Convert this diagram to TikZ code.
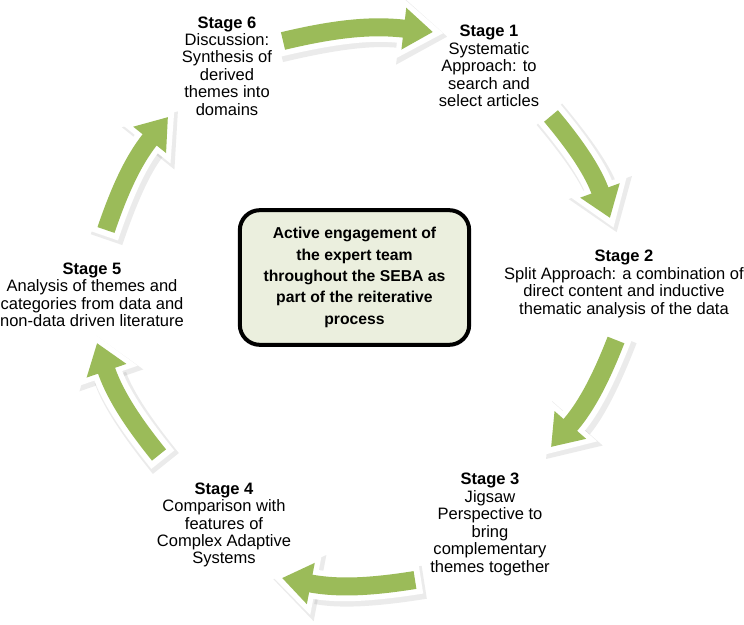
\documentclass[tikz,border=0pt]{standalone}
\usepackage{fontspec}
\setmainfont{Liberation Sans}
\usetikzlibrary{arrows.meta}
\definecolor{arrowgreen}{HTML}{9BBB59}
\definecolor{boxfill}{RGB}{235,239,222}
\begin{document}
\begin{tikzpicture}[x=0.75pt,y=0.75pt,
  stage/.style={align=center, font=\fontsize{12.4}{13.1}\selectfont, inner sep=0pt},
  corebox/.style={draw=black, line width=3pt, fill=boxfill, rounded corners=15pt,
    minimum width=172pt, minimum height=101pt, align=center, inner sep=0pt,
    font=\fontsize{11.8}{16}\selectfont\bfseries},
  arrowshade/.style={black, opacity=0.08, line width=25pt,
    -{Triangle[width=48pt,length=36pt]}, shorten <=-5pt, shorten >=-9pt,
    transform canvas={xshift=2pt,yshift=-2.5pt}},
  arrowhalo/.style={white, line width=22pt,
    -{Triangle[width=44pt,length=34pt]}, shorten <=-4.5pt, shorten >=-8pt},
  arrowbody/.style={arrowgreen, line width=13.5pt,
    -{Triangle[width=30pt,length=22pt]}},
  arcbend/.style={bend left=10}
]
\useasboundingbox (0,0) rectangle (744,625);

% stage texts
\node[stage] (s6) at (227,559) {\textbf{Stage 6}\\Discussion:\\Synthesis of\\derived\\themes into\\domains};
\node[stage] (s1) at (489,559) {\textbf{Stage 1}\\Systematic\\Approach: to\\search and\\select articles};
\node[stage] (s2) at (624,341) {\textbf{Stage 2}\\Split Approach: a combination of\\direct content and inductive\\thematic analysis of the data};
\node[stage] (s3) at (490,100.5) {\textbf{Stage 3}\\Jigsaw\\Perspective to\\bring\\complementary\\themes together};
\node[stage] (s4) at (224,100) {\textbf{Stage 4}\\Comparison with\\features of\\Complex Adaptive\\Systems};
\node[stage] (s5) at (92,330) {\textbf{Stage 5}\\Analysis of themes and\\categories from data and\\non-data driven literature};

\node[corebox] (core) at (354.5,347.5) {Active engagement of\\the expert team\\throughout the SEBA as\\part of the reiterative\\process};

% arrow ends
\coordinate (a1s) at (283,584); \coordinate (a1e) at (433,593);
\coordinate (a2s) at (551,509); \coordinate (a2e) at (610,407);
\coordinate (a3s) at (616,285); \coordinate (a3e) at (551,178);
\coordinate (a4s) at (415,45);  \coordinate (a4e) at (282,47);
\coordinate (a5s) at (159,170); \coordinate (a5e) at (97,282);
\coordinate (a6s) at (106,395); \coordinate (a6e) at (168,508);

\foreach \p/\q in {a1s/a1e,a2s/a2e,a3s/a3e,a4s/a4e,a5s/a5e,a6s/a6e}{
  \draw[arrowshade] (\p) to[arcbend] (\q);
}
\foreach \p/\q in {a1s/a1e,a2s/a2e,a3s/a3e,a4s/a4e,a5s/a5e,a6s/a6e}{
  \draw[arrowhalo] (\p) to[arcbend] (\q);
}
\foreach \p/\q in {a1s/a1e,a2s/a2e,a3s/a3e,a4s/a4e,a5s/a5e,a6s/a6e}{
  \draw[arrowbody] (\p) to[arcbend] (\q);
}
\end{tikzpicture}
\end{document}
